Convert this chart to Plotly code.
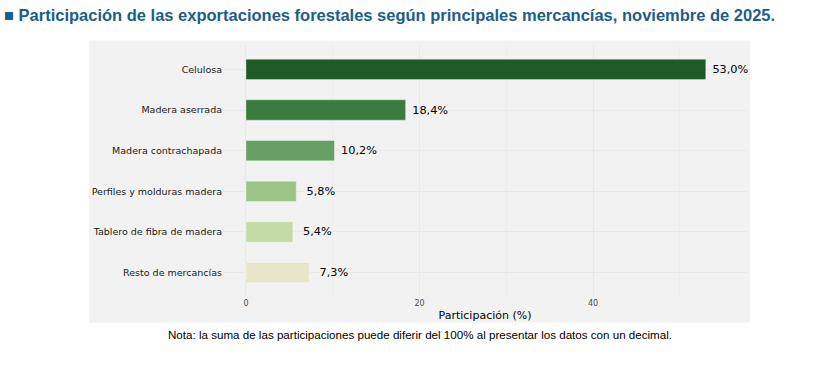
import plotly.graph_objects as go

categorias = ["Celulosa", "Madera aserrada", "Madera contrachapada",
              "Perfiles y molduras madera", "Tablero de fibra de madera",
              "Resto de mercancías"]
participacion = [53.0, 18.4, 10.2, 5.8, 5.4, 7.3]
colores = ["#1f5b26", "#3b7b3f", "#67a064", "#9dc488", "#c4dba8", "#e7e6cb"]
x_ticks = [0, 20, 40]

# labels formatted with comma decimal, padded to width 5
etiquetas = [("%.1f%%" % v).replace(".", ",").rjust(6, "\u00a0") for v in participacion]

W, H = 836, 369
L, R, T, B = 223, 89, 44.5, 71.5
pw, ph = W - L - R, H - T - B

fig = go.Figure()
fig.add_trace(go.Bar(
    y=categorias[::-1], x=participacion[::-1], orientation="h",
    marker=dict(color=colores[::-1], line=dict(color="rgba(255,255,255,0.35)", width=1)),
    width=0.5,
    text=etiquetas[::-1], textposition="outside", cliponaxis=False,
    textfont=dict(family="DejaVu Sans", size=11.3, color="#000000"),
    hoverinfo="skip",
))

def px_x(p):
    return (p - L) / pw

def px_y(p):
    return 1 - (p - T) / ph

fig.add_shape(type="rect", xref="paper", yref="paper",
              x0=px_x(89), x1=px_x(750), y0=px_y(323), y1=px_y(40),
              fillcolor="#f2f2f2", line=dict(width=0), layer="below")

fig.update_layout(
    width=W, height=H,
    margin=dict(l=L, r=R, t=T, b=B, pad=0),
    paper_bgcolor="white", plot_bgcolor="rgba(0,0,0,0)",
    showlegend=False,
    xaxis=dict(range=[-2.65, 57.75], tickvals=x_ticks, ticktext=[str(t) for t in x_ticks],
               showgrid=True, gridcolor="#e9e9e9", gridwidth=0.6,
               minor=dict(tickvals=[10, 30, 50], showgrid=True, gridcolor="#ededed", gridwidth=0.4),
               zeroline=False, showline=False, ticks="", ticklen=0,
               tickfont=dict(family="DejaVu Sans", size=8, color="#4d4d4d"),
               title=dict(text="Participación (%)", standoff=4,
                          font=dict(family="DejaVu Sans", size=11, color="#000000"))),
    yaxis=dict(range=[-0.6, 5.6], showgrid=True, gridcolor="#e9e9e9", gridwidth=0.6,
               zeroline=False, showline=False, ticks="", ticklen=0,
               categoryorder="array", categoryarray=categorias[::-1],
               tickfont=dict(family="DejaVu Sans", size=9.5, color="#1a1a1a")),
    font=dict(family="DejaVu Sans"),
)

fig.add_annotation(xref="paper", yref="paper", x=px_x(2), y=px_y(14),
                   xanchor="left", yanchor="middle", showarrow=False,
                   text="<b>■ Participación de las exportaciones forestales según principales mercancías, noviembre de 2025.</b>",
                   font=dict(family="Liberation Sans", size=16.5, color="#1a5e8c"))
fig.add_annotation(xref="paper", yref="paper", x=px_x(420), y=px_y(335),
                   xanchor="center", yanchor="middle", showarrow=False,
                   text="Nota: la suma de las participaciones puede diferir del 100% al presentar los datos con un decimal.",
                   font=dict(family="Liberation Sans", size=11.6, color="#000000"))

fig.write_html("out.html", config={"displayModeBar": False},
               post_script="document.body.style.margin='0';document.body.style.overflow='hidden';")
